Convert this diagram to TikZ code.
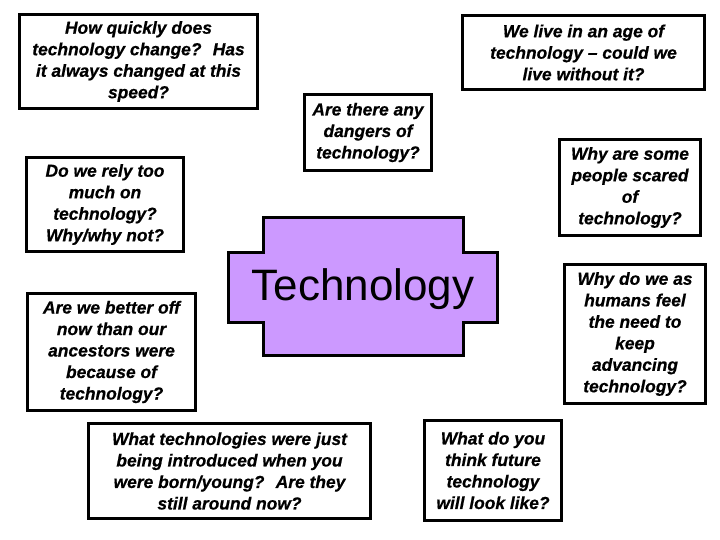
\documentclass[tikz,border=0pt]{standalone}
\usepackage{fontspec}
\setmainfont[BoldItalicFeatures={FakeBold=0.6}]{Liberation Sans}
\definecolor{lav}{HTML}{CC99FF}
\begin{document}
\begin{tikzpicture}[x=1pt,y=-1pt,
  qbox/.style={draw=black,line width=3pt,fill=white,rectangle,inner sep=0pt,align=center,
    font=\fontsize{17.4}{21.5}\selectfont\bfseries\itshape},
]
\useasboundingbox (0,0) rectangle (720,540);
\fill[white] (0,0) rectangle (720,540);
% central shape
\draw[line width=3pt,fill=lav,line join=miter]
  (263,218) -- (463,218) -- (463,252) -- (497,252) -- (497,322) -- (463,322) -- (463,355)
  -- (263,355) -- (263,322) -- (228,322) -- (228,252) -- (263,252) -- cycle;
\node[anchor=base,inner sep=0pt,font=\fontsize{44}{50}\selectfont] (tech) at (363,300) {Technology};
% question boxes
\node[qbox,minimum width=238pt,minimum height=94pt] (quick) at (138.5,61.5)
  {How quickly does\\technology change?~ Has\\it always changed at this\\speed?};
\node[qbox,minimum width=242pt,minimum height=74pt] (live) at (583.5,52.5)
  {We live in an age of\\technology – could we\\live without it?};
\node[qbox,minimum width=127pt,minimum height=76pt] (danger) at (368,132.5)
  {Are there any\\dangers of\\technology?};
\node[qbox,minimum width=157pt,minimum height=94pt] (rely) at (105,204.5)
  {Do we rely too\\much on\\technology?\\Why/why not?};
\node[qbox,minimum width=168pt,minimum height=117pt] (better) at (111.5,352)
  {Are we better off\\now than our\\ancestors were\\because of\\technology?};
\node[qbox,minimum width=141pt,minimum height=96pt] (scared) at (630,187.5)
  {Why are some\\people scared\\of\\technology?};
\node[qbox,minimum width=141pt,minimum height=139pt] (humans) at (635,334)
  {Why do we as\\humans feel\\the need to\\keep\\advancing\\technology?};
\node[qbox,minimum width=282pt,minimum height=95pt] (intro) at (229.5,471)
  {What technologies were just\\being introduced when you\\were born/young?~ Are they\\still around now?};
\node[qbox,minimum width=137pt,minimum height=100pt] (future) at (493,470.5)
  {What do you\\think future\\technology\\will look like?};
\end{tikzpicture}
\end{document}
